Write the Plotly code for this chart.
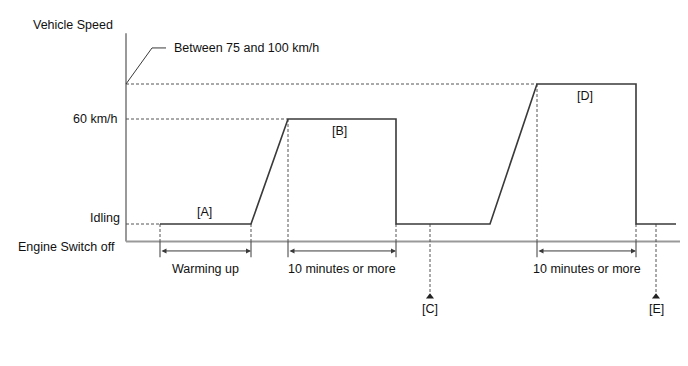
import plotly.graph_objects as go

# ---- schematic data (time in arbitrary units, speed in km/h-like schematic units) ----
LEVEL_OFF = -10      # Engine switch off
LEVEL_IDLE = 0       # Idling
LEVEL_60 = 60        # 60 km/h
LEVEL_TOP = 80       # Between 75 and 100 km/h

profile_t = [34, 125, 162, 270, 270, 364, 411, 510, 510, 550]
profile_v = [LEVEL_IDLE, LEVEL_IDLE, LEVEL_60, LEVEL_60, LEVEL_IDLE, LEVEL_IDLE,
             LEVEL_TOP, LEVEL_TOP, LEVEL_IDLE, LEVEL_IDLE]

axis_end_t = 554
axis_top_v = 109
t_C = 304
t_E = 530

phase_labels = ["[A]", "[B]", "[D]"]
phase_t = [78, 213, 459]
phase_v = [7, 53, 73]

dim_start = [34, 162, 411]
dim_end = [125, 270, 510]
dim_labels = ["Warming up", "10 minutes or more", "10 minutes or more"]
dim_label_t = [79, 216, 461]
dim_v = -15.4
dim_label_v = -25.8
ext_bottom_v = -19

marker_labels = ["[C]", "[E]"]
marker_t = [t_C, t_E]
marker_tip_v = -41.5
marker_label_v = -48.5

ylab_text = ["60 km/h", "Idling", "Engine Switch off"]
ylab_v = [LEVEL_60, 3.4, -13.0]
ylab_t = [-6, -4, -9]

DARK = "#3a3a3a"
DASH_C = "#555555"
AXIS_C = "#999999"
TXT = "#111111"
FONT = "Liberation Sans, Arial, sans-serif"
FSIZE = 12.5
DASH = "3px,2px"

fig = go.Figure()

def seg(xs, ys, color, width, dash=None):
    fig.add_trace(go.Scatter(x=xs, y=ys, mode="lines", hoverinfo="skip",
                             line=dict(color=color, width=width, dash=dash),
                             showlegend=False))

# axes
seg([0, 0], [LEVEL_OFF, axis_top_v], AXIS_C, 2)
seg([0, axis_end_t], [LEVEL_OFF, LEVEL_OFF], AXIS_C, 2)

# horizontal dashed reference lines
seg([0, profile_t[0]], [LEVEL_IDLE, LEVEL_IDLE], DASH_C, 1, DASH)
seg([0, profile_t[2]], [LEVEL_60, LEVEL_60], DASH_C, 1, DASH)
seg([0, profile_t[6]], [LEVEL_TOP, LEVEL_TOP], DASH_C, 1, DASH)

# leader for "Between 75 and 100 km/h"
seg([0, 26, 40], [LEVEL_TOP, 100.6, 100.6], DARK, 1)

# extension lines (dashed above base, solid below)
ext_pts = [(profile_t[0], LEVEL_IDLE), (profile_t[1], LEVEL_IDLE), (profile_t[2], LEVEL_60),
           (profile_t[3], LEVEL_IDLE), (profile_t[6], LEVEL_TOP), (profile_t[7], LEVEL_IDLE)]
for t, v in ext_pts:
    seg([t, t], [v, LEVEL_OFF], DASH_C, 1, DASH)
    seg([t, t], [LEVEL_OFF, ext_bottom_v], DARK, 1)

# C / E markers
for t in marker_t:
    seg([t, t], [LEVEL_IDLE, marker_tip_v], DASH_C, 1, DASH)
fig.add_trace(go.Scatter(x=marker_t, y=[marker_tip_v] * 2, mode="markers", hoverinfo="skip",
                         marker=dict(symbol="triangle-up", size=7, color="#222222"),
                         showlegend=False))

# speed profile
seg(profile_t, profile_v, DARK, 1.6)

ann = []
def txt(t, v, s, xanchor="center"):
    ann.append(dict(x=t, y=v, xref="x", yref="y", text=s, showarrow=False,
                    xanchor=xanchor, yanchor="middle",
                    font=dict(family=FONT, size=FSIZE, color=TXT)))

txt(-53, 113.7, "Vehicle Speed")
txt(46, 100.6, "Between 75 and 100 km/h", "left")
for s, t, v in zip(ylab_text, ylab_t, ylab_v):
    txt(t, v, s, "right")
for s, t, v in zip(phase_labels, phase_t, phase_v):
    txt(t, v, s)
for s, t in zip(dim_labels, dim_label_t):
    txt(t, dim_label_v, s)
for s, t in zip(marker_labels, marker_t):
    txt(t, marker_label_v, s)

# dimension arrows (double headed)
for a, b in zip(dim_start, dim_end):
    ann.append(dict(x=b, y=dim_v, ax=a, ay=dim_v, xref="x", yref="y", axref="x", ayref="y",
                    text="", showarrow=True, arrowhead=2, startarrowhead=2,
                    arrowside="end+start", arrowsize=1, startarrowsize=1,
                    arrowwidth=1, arrowcolor=DARK, standoff=0, startstandoff=0))

fig.update_layout(
    width=688, height=366, autosize=False,
    margin=dict(l=0, r=0, t=0, b=0),
    paper_bgcolor="white", plot_bgcolor="white",
    xaxis=dict(range=[-126, 562], visible=False, fixedrange=True),
    yaxis=dict(range=[(224 - 366) / 1.75, 224 / 1.75], visible=False, fixedrange=True),
    annotations=ann,
    showlegend=False,
)

fig.write_html("out.html", config={"displayModeBar": False})
